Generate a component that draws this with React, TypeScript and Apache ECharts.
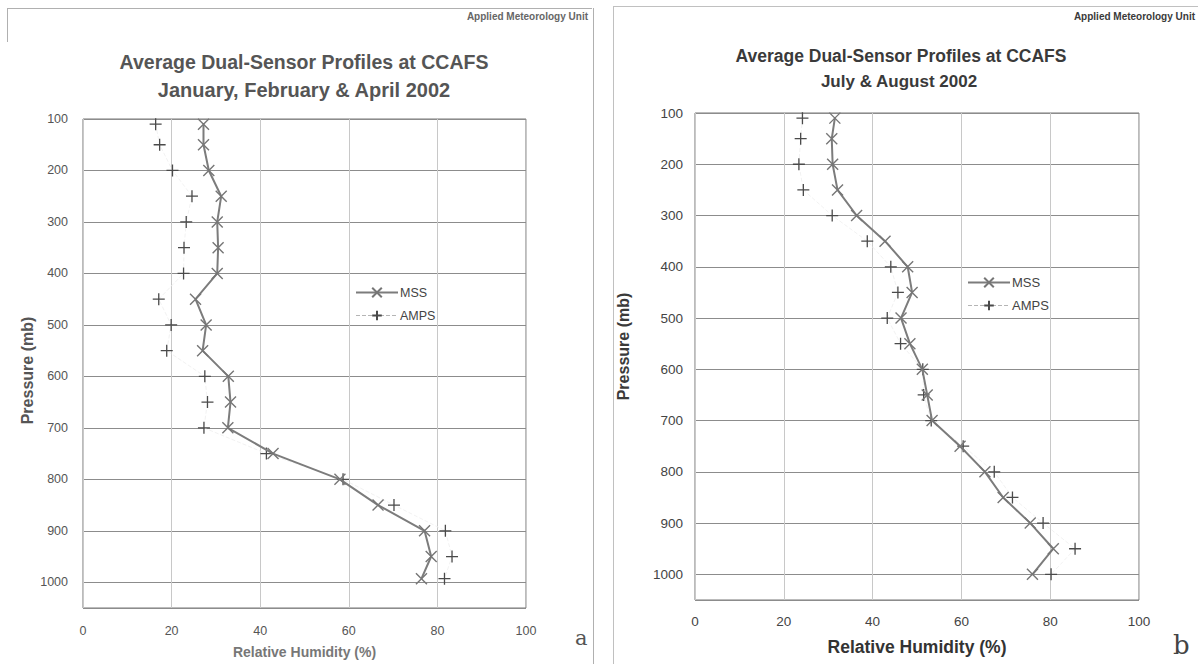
import React, { useEffect, useRef } from "react";
import * as echarts from "echarts";

// Panel a: January, February & April 2002
const leftPressure = [110, 150, 200, 250, 300, 350, 400, 450, 500, 550, 600, 650, 700, 750, 800, 850, 900, 950, 993];
const leftMSS = [27.2, 27.2, 28.4, 31.2, 30.3, 30.5, 30.3, 25.4, 27.8, 27.0, 32.8, 33.3, 32.7, 42.9, 58.0, 66.6, 77.1, 78.6, 76.4];
const leftAMPS = [16.4, 17.3, 20.2, 24.6, 23.3, 22.8, 22.7, 17.1, 19.9, 18.9, 27.5, 28.1, 27.3, 41.4, 58.7, 70.2, 81.8, 83.3, 81.6];

// Panel b: July & August 2002
const rightPressure = [110, 150, 200, 250, 300, 350, 400, 450, 500, 550, 600, 650, 700, 750, 800, 850, 900, 950, 1000];
const rightMSS = [31.5, 30.8, 31.0, 32.1, 36.4, 42.8, 47.9, 48.9, 46.4, 48.4, 51.2, 52.3, 53.4, 59.7, 65.3, 69.4, 75.5, 80.7, 76.0];
const rightAMPS = [24.2, 23.8, 23.4, 24.4, 30.9, 38.8, 44.1, 45.7, 43.3, 46.3, 51.3, 51.5, 53.2, 60.4, 67.4, 71.5, 78.4, 85.6, 80.2];

const seriesNames = ["MSS", "AMPS"];
const xTicksMax = 100;
const yMin = 100;
const yMax = 1050;

const FONT = "'Liberation Sans', Arial, sans-serif";
const SERIF = "'DejaVu Serif', 'Liberation Serif', serif";
const X_PATH = "path://M0,0L10,10M10,0L0,10";
const PLUS_PATH = "path://M5,0L5,10M0,5L10,5";

function pairs(xs: number[], ps: number[]) {
  return xs.map((v, i) => [v, ps[i]]);
}

export default function App() {
  const ref = useRef<HTMLDivElement>(null);
  useEffect(() => {
    if (!ref.current) return;
    const chart = echarts.init(ref.current, null, { renderer: "svg" });

    const xAxisBase = (grid: number, color: string, fontSize: number, margin: number, nameGap: number, nameSize: number, nameColor: string) => ({
      gridIndex: grid,
      type: "value",
      min: 0,
      max: xTicksMax,
      interval: 20,
      axisLine: { show: false },
      axisTick: { show: false },
      axisLabel: { margin, color, fontSize, fontFamily: FONT, formatter: (v: number) => String(v) },
      splitLine: { show: true, lineStyle: { color: "#c8c8c8", width: 1 } },
      name: "Relative Humidity (%)",
      nameLocation: "middle",
      nameGap,
      nameTextStyle: { fontSize: nameSize, fontWeight: "bold", color: nameColor, fontFamily: FONT },
    });
    const yAxisBase = (grid: number, color: string, fontSize: number, margin: number, nameGap: number, nameColor: string, namePadding: number[]) => ({
      gridIndex: grid,
      type: "value",
      inverse: true,
      min: yMin,
      max: yMax,
      interval: 100,
      axisLine: { show: false },
      axisTick: { show: false },
      axisLabel: { margin, color, fontSize, fontFamily: FONT, showMaxLabel: false, formatter: (v: number) => String(v) },
      splitLine: { show: true, lineStyle: { color: "#8c8c8c", width: 1 } },
      name: "Pressure (mb)",
      nameLocation: "middle",
      nameGap,
      nameTextStyle: { fontSize: 16, fontWeight: "bold", color: nameColor, fontFamily: FONT, padding: namePadding },
    });

    const mssSeries = (idx: number, data: number[][]) => ({
      name: seriesNames[0],
      type: "line",
      xAxisIndex: idx,
      yAxisIndex: idx,
      data,
      symbol: X_PATH,
      symbolSize: 11,
      showAllSymbol: true,
      lineStyle: { color: "#7c7c7c", width: 2 },
      itemStyle: { color: "transparent", borderColor: "#767676", borderWidth: 1.4 },
      z: 3,
    });
    const ampsSeries = (idx: number, data: number[][]) => ({
      name: seriesNames[1],
      type: "line",
      xAxisIndex: idx,
      yAxisIndex: idx,
      data,
      symbol: PLUS_PATH,
      symbolSize: 12,
      showAllSymbol: true,
      lineStyle: { color: "#f2f2f2", width: 1, type: "dashed" },
      itemStyle: { color: "transparent", borderColor: "#4a4a4a", borderWidth: 1.3 },
      z: 2,
    });

    const legendBase = (left: number, top: number, fontSize: number) => ({
      left,
      top,
      padding: 0,
      orient: "vertical",
      itemWidth: 42,
      itemHeight: 12,
      itemGap: 10,
      textStyle: { fontSize, color: "#444", fontFamily: FONT, padding: [0, 0, 0, -3] },
      data: [
        { name: "MSS" },
        { name: "AMPS", lineStyle: { color: "#b5b5b5", type: "dashed", width: 1 } },
      ],
    });

    chart.setOption({
      animation: false,
      textStyle: { fontFamily: FONT },
      title: [
        { text: "Applied Meteorology Unit", right: 610, top: 11, padding: 0, textStyle: { fontSize: 10, fontWeight: "bold", color: "#666", fontFamily: FONT } },
        { text: "Applied Meteorology Unit", right: 3, top: 11, padding: 0, textStyle: { fontSize: 10, fontWeight: "bold", color: "#3a3a3a", fontFamily: FONT } },
        { text: "Average Dual-Sensor Profiles at CCAFS", left: 304, textAlign: "center", top: 52, padding: 0, textStyle: { fontSize: 19.5, fontWeight: "bold", color: "#555", fontFamily: FONT } },
        { text: "January, February & April 2002", left: 304, textAlign: "center", top: 80, padding: 0, textStyle: { fontSize: 20, fontWeight: "bold", color: "#555", fontFamily: FONT } },
        { text: "Average Dual-Sensor Profiles at CCAFS", left: 901, textAlign: "center", top: 47, padding: 0, textStyle: { fontSize: 17.5, fontWeight: "bold", color: "#3a3a3a", fontFamily: FONT } },
        { text: "July & August 2002", left: 899, textAlign: "center", top: 73, padding: 0, textStyle: { fontSize: 17, fontWeight: "bold", color: "#3a3a3a", fontFamily: FONT } },
        { text: "a", left: 575, top: 627, padding: 0, textStyle: { fontSize: 21, fontWeight: "normal", color: "#555", fontFamily: SERIF } },
        { text: "b", left: 1173, top: 632, padding: 0, textStyle: { fontSize: 26, fontWeight: "normal", color: "#444", fontFamily: SERIF } },
      ],
      grid: [
        { left: 83, top: 119, width: 443, height: 490, show: true, borderColor: "#777", borderWidth: 1, backgroundColor: "transparent" },
        { left: 695, top: 113, width: 444, height: 487, show: true, borderColor: "#777", borderWidth: 1, backgroundColor: "transparent" },
      ],
      xAxis: [xAxisBase(0, "#555", 12.5, 16, 37, 14, "#777"), xAxisBase(1, "#444", 13.5, 14, 38, 17.5, "#333")],
      yAxis: [
        yAxisBase(0, "#555", 12.5, 15, 48, "#555", [0, 14, 0, 0]),
        yAxisBase(1, "#444", 13.5, 12, 64, "#3a3a3a", [0, 0, 0, 20]),
      ],
      legend: [legendBase(355, 286, 12.5), legendBase(967, 276, 13)],
      series: [
        mssSeries(0, pairs(leftMSS, leftPressure)),
        ampsSeries(0, pairs(leftAMPS, leftPressure)),
        mssSeries(1, pairs(rightMSS, rightPressure)),
        ampsSeries(1, pairs(rightAMPS, rightPressure)),
      ],
      graphic: [
        { type: "line", shape: { x1: 8, y1: 8.5, x2: 592, y2: 8.5 }, style: { stroke: "#b0b0b0", lineWidth: 1 }, silent: true },
        { type: "line", shape: { x1: 7.5, y1: 8, x2: 7.5, y2: 42 }, style: { stroke: "#b0b0b0", lineWidth: 1 }, silent: true },
        { type: "line", shape: { x1: 593.5, y1: 8, x2: 593.5, y2: 664 }, style: { stroke: "#b0b0b0", lineWidth: 1 }, silent: true },
        { type: "line", shape: { x1: 613.5, y1: 6, x2: 613.5, y2: 664 }, style: { stroke: "#c0c0c0", lineWidth: 1 }, silent: true },
        { type: "line", shape: { x1: 613, y1: 6.5, x2: 1198, y2: 6.5 }, style: { stroke: "#c0c0c0", lineWidth: 1 }, silent: true },
      ],
    });

    return () => chart.dispose();
  }, []);

  return (
    <div
      ref={ref}
      style={{ position: "absolute", left: 0, top: 0, width: 1198, height: 664, background: "#fff" }}
    />
  );
}
